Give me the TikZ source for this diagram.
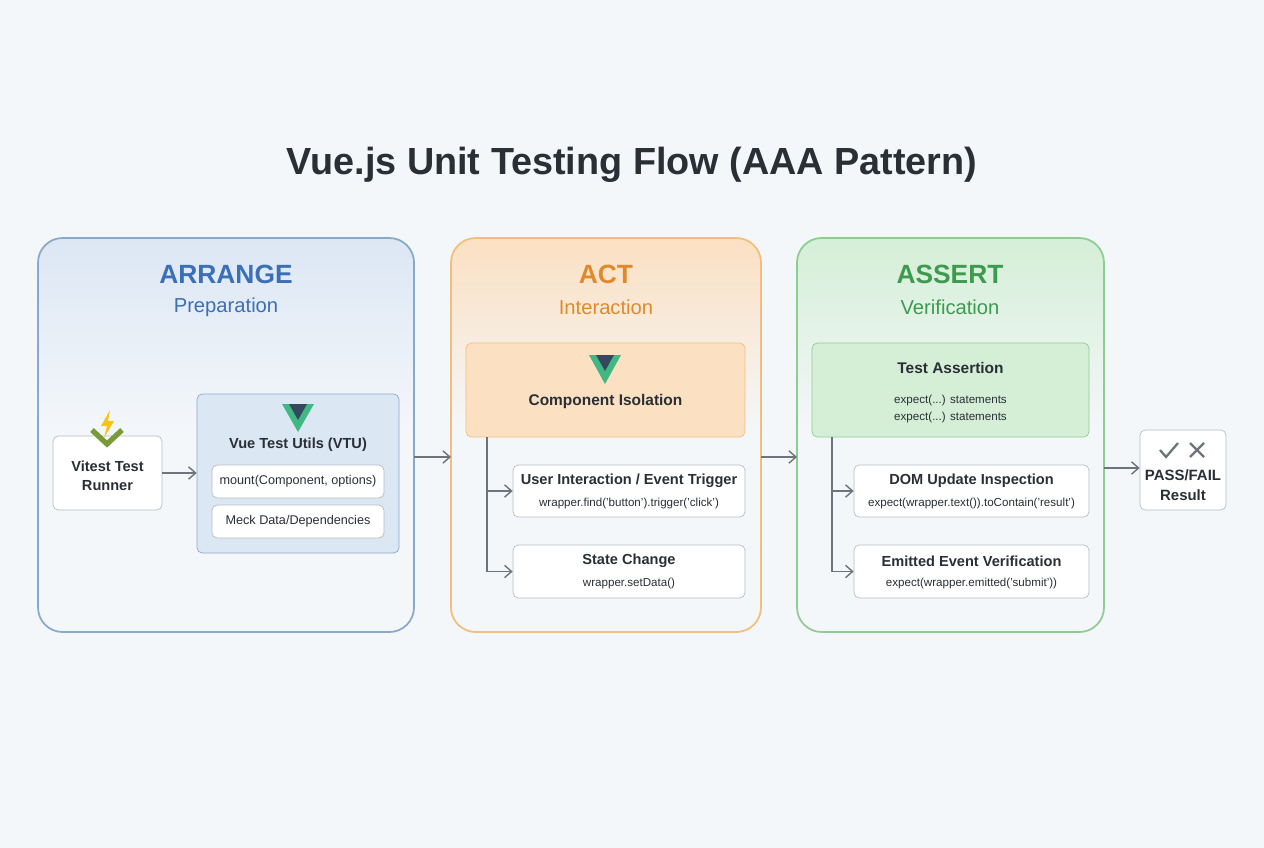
\documentclass[tikz,border=0pt]{standalone}
\usepackage{fontspec}
\setmainfont{Liberation Sans}
\usetikzlibrary{arrows.meta,positioning}
\definecolor{bgc}{HTML}{F4F7FA}
\definecolor{bluet}{HTML}{3B6FB6}
\definecolor{blueb}{HTML}{8AA8CC}
\definecolor{bluef}{HTML}{DCE7F4}
\definecolor{oranget}{HTML}{E08A2C}
\definecolor{orangeb}{HTML}{F2BE7E}
\definecolor{orangef}{HTML}{FBE0C2}
\definecolor{greent}{HTML}{3D9A4F}
\definecolor{greenb}{HTML}{8FCC94}
\definecolor{greenf}{HTML}{D5EFD7}
\definecolor{inkc}{HTML}{2A2F36}
\definecolor{linec}{HTML}{6E747B}
\definecolor{boxb}{HTML}{B5BCC4}
\definecolor{vueg}{HTML}{41B883}
\definecolor{vued}{HTML}{35495E}
\definecolor{boltc}{HTML}{F5C518}
\definecolor{chevc}{HTML}{7A9A3A}
\begin{document}
\begin{tikzpicture}[x=0.02cm,y=-0.02cm]

\tikzstyle{panel} = [rectangle, rounded corners=14pt, line width=1pt]
\tikzstyle{bx} = [rectangle, rounded corners=3pt, draw=boxb, fill=white, text=inkc, align=center]
\tikzstyle{arr} = [draw=linec, line width=0.8pt, -{Straight Barb[length=4pt,width=7pt]}]
\tikzstyle{head} = [font=\fontsize{15}{17}\selectfont\bfseries]
\tikzstyle{sub} = [font=\fontsize{11.5}{13}\selectfont]
\tikzstyle{bt} = [text=inkc, font=\fontsize{8.3}{10}\selectfont\bfseries]
\tikzstyle{code} = [text=inkc, font=\fontsize{6.6}{8}\selectfont]

\fill[bgc] (0,0) rectangle (1264,848);
\useasboundingbox (0,0) rectangle (1264,848);

\node (title) at (632,165) [text=inkc, font=\fontsize{21.5}{26}\selectfont\bfseries] {Vue.js Unit Testing Flow (AAA Pattern)};

% panels
\draw[panel, draw=blueb, top color=bluef, bottom color=bgc, middle color=bgc] (38,238) rectangle (414,632);
\draw[panel, draw=orangeb, top color=orangef, bottom color=bgc, middle color=bgc] (451,238) rectangle (761,632);
\draw[panel, draw=greenb, top color=greenf, bottom color=bgc, middle color=bgc] (797,238) rectangle (1104,632);
\coordinate (arrR) at (414,457);
\coordinate (actL) at (451,457);
\coordinate (actR) at (761,457);
\coordinate (asrL) at (797,457);
\coordinate (asrR) at (1104,468);

\node (arrange) at (226,274) [text=bluet, head] {ARRANGE};
\node (prep) at (226,307) [text=bluet, sub] {Preparation};
\node (act) at (606,274) [text=oranget, head] {ACT};
\node (inter) at (606,307) [text=oranget, sub] {Interaction};
\node (assert) at (950,274) [text=greent, head] {ASSERT};
\node (verif) at (950,307) [text=greent, sub] {Verification};

% arrange
\node (vitest) at (107.5,473) [bx, minimum width=109*0.02cm, minimum height=74*0.02cm] {};
\node (vitestt) at (107.5,476) [bt, align=center, font=\fontsize{8.3}{11}\selectfont\bfseries] {Vitest Test\\Runner};
\fill[boltc] (110,410) -- (101,426) -- (107,426) -- (104,438) -- (114,421) -- (108,421) -- cycle;
\draw[chevc, line width=3pt] (92,430) -- (107,444) -- (122,430);
\node (vtu) at (298,473.5) [rectangle, rounded corners=3pt, draw=blueb, fill=bluef, minimum width=202*0.02cm, minimum height=159*0.02cm] {};
\fill[vueg] (282,404) -- (314,404) -- (298,432) -- cycle;
\fill[vued] (289,404) -- (307,404) -- (298,420) -- cycle;
\node (vtut) at (298,445) [bt] {Vue Test Utils (VTU)};
\node (mount) at (298,481.5) [bx, minimum width=172*0.02cm, minimum height=33*0.02cm, font=\fontsize{7.2}{9}\selectfont] {mount(Component, options)};
\node (mock) at (298,521.5) [bx, minimum width=172*0.02cm, minimum height=33*0.02cm, font=\fontsize{7.2}{9}\selectfont] {Meck Data/Dependencies};
\draw[arr] (vitest) -- (vtu.west |- vitest);

% act
\node (iso) at (605.5,390) [rectangle, rounded corners=3pt, draw=orangeb, fill=orangef, minimum width=279*0.02cm, minimum height=94*0.02cm] {};
\fill[vueg] (589,355) -- (621,355) -- (605,384) -- cycle;
\fill[vued] (596,355) -- (614,355) -- (605,371) -- cycle;
\node (isot) at (605.5,401) [bt, font=\fontsize{8.8}{10}\selectfont\bfseries] {Component Isolation};
\node (ui) at (629,491) [bx, minimum width=232*0.02cm, minimum height=52*0.02cm] {};
\node (uit) at (629,481) [bt] {User Interaction / Event Trigger};
\node (uic) at (629,503) [code] {wrapper.find('button').trigger('click')};
\node (sc) at (629,571.5) [bx, minimum width=232*0.02cm, minimum height=53*0.02cm] {};
\node (sct) at (629,561) [bt] {State Change};
\node (scc) at (629,583) [code] {wrapper.setData()};
\coordinate (actbus) at (487,437);
\draw[arr] (actbus) |- (ui);
\draw[arr] (actbus) |- (sc);

% assert
\node (ta) at (950.5,390) [rectangle, rounded corners=3pt, draw=greenb, fill=greenf, minimum width=277*0.02cm, minimum height=94*0.02cm] {};
\node (tat) at (950.5,368) [bt, font=\fontsize{8.8}{10}\selectfont\bfseries] {Test Assertion};
\node (tac) at (950.5,409) [code, align=center] {expect(...) statements\\[2pt]expect(...) statements};
\node (dom) at (971.5,491) [bx, minimum width=235*0.02cm, minimum height=52*0.02cm] {};
\node (domt) at (971.5,481) [bt] {DOM Update Inspection};
\node (domc) at (971.5,503) [code] {expect(wrapper.text()).toContain('result')};
\node (emit) at (971.5,571.5) [bx, minimum width=235*0.02cm, minimum height=53*0.02cm] {};
\node (emitt) at (971.5,561) [bt] {Emitted Event Verification};
\node (emitc) at (971.5,583) [code] {expect(wrapper.emitted('submit'))};
\coordinate (asrbus) at (832,437);
\draw[arr] (asrbus) |- (dom);
\draw[arr] (asrbus) |- (emit);

% result
\node (res) at (1183,470) [bx, minimum width=86*0.02cm, minimum height=80*0.02cm] {};
\node (rest) at (1183,485) [bt, align=center, font=\fontsize{8.5}{11}\selectfont\bfseries] {PASS/FAIL\\Result};
\draw[linec, line width=1.3pt] (1160,450) -- (1166,457) -- (1178,443);
\draw[linec, line width=1.3pt] (1190,443) -- (1204,457) (1204,443) -- (1190,457);

% phase arrows
\draw[arr] (arrR) -- (actL);
\draw[arr] (actR) -- (asrL);
\draw[arr] (asrR) -- (res.west |- asrR);
\end{tikzpicture}
\end{document}
